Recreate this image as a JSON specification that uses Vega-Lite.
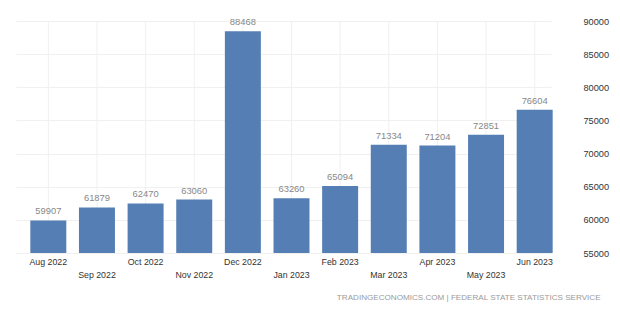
{
  "$schema": "https://vega.github.io/schema/vega-lite/v6.json",
  "width": 575,
  "height": 232,
  "autosize": {"type": "none"},
  "padding": {"left": 0, "top": 21, "right": 45, "bottom": 57},
  "background": "white",
  "config": {
    "view": {"stroke": null},
    "font": "Liberation Sans",
    "axis": {"labelOverlap": false}
  },
  "title": {
    "text": "TRADINGECONOMICS.COM | FEDERAL STATE STATISTICS SERVICE",
    "orient": "bottom",
    "anchor": "end",
    "fontSize": 8.1,
    "fontWeight": "normal",
    "color": "#9a9a9a",
    "font": "Liberation Sans",
    "offset": 15,
    "dx": -8
  },
  "data": {
    "values": [
      {"month": "Aug 2022", "value": 59907},
      {"month": "Sep 2022", "value": 61879},
      {"month": "Oct 2022", "value": 62470},
      {"month": "Nov 2022", "value": 63060},
      {"month": "Dec 2022", "value": 88468},
      {"month": "Jan 2023", "value": 63260},
      {"month": "Feb 2023", "value": 65094},
      {"month": "Mar 2023", "value": 71334},
      {"month": "Apr 2023", "value": 71204},
      {"month": "May 2023", "value": 72851},
      {"month": "Jun 2023", "value": 76604}
    ]
  },
  "encoding": {
    "x": {
      "field": "month",
      "type": "ordinal",
      "sort": null,
      "scale": {"range": [24, 559], "paddingInner": 0.26, "paddingOuter": 0.13},
      "axis": {
        "title": null,
        "domain": false,
        "ticks": false,
        "grid": false,
        "labelAngle": 0,
        "labelFontSize": 8.8,
        "labelColor": "#333333",
        "labelPadding": 4,
        "labelLineHeight": 13,
        "labelBaseline": "top",
        "labelExpr": "indexof(['Sep 2022','Nov 2022','Jan 2023','Mar 2023','May 2023'], datum.value) >= 0 ? ['', datum.label] : datum.label"
      }
    },
    "y": {
      "field": "value",
      "type": "quantitative",
      "scale": {"domain": [55000, 90000], "zero": false, "nice": false},
      "axis": {
        "title": null,
        "orient": "right",
        "values": [55000, 60000, 65000, 70000, 75000, 80000, 85000, 90000],
        "format": "d",
        "domain": false,
        "ticks": false,
        "grid": true,
        "gridColor": "#f0f0f0",
        "labelFontSize": 9.2,
        "labelColor": "#333333",
        "labelPadding": 8,
        "labelAlign": "left",
        "labelOverlap": false
      }
    }
  },
  "layer": [
    {
      "mark": {"type": "rule", "color": "#f0f0f0", "strokeWidth": 1},
      "encoding": {
        "y": {"datum": 90000},
        "y2": {"datum": 55000}
      }
    },
    {
      "mark": {"type": "bar", "color": "#557fb4"},
      "encoding": {
        "y2": {"datum": 55000}
      }
    },
    {
      "mark": {"type": "text", "baseline": "bottom", "dy": -4, "fontSize": 9.4, "color": "#888888"},
      "encoding": {
        "text": {"field": "value", "type": "quantitative", "format": "d"}
      }
    }
  ]
}
